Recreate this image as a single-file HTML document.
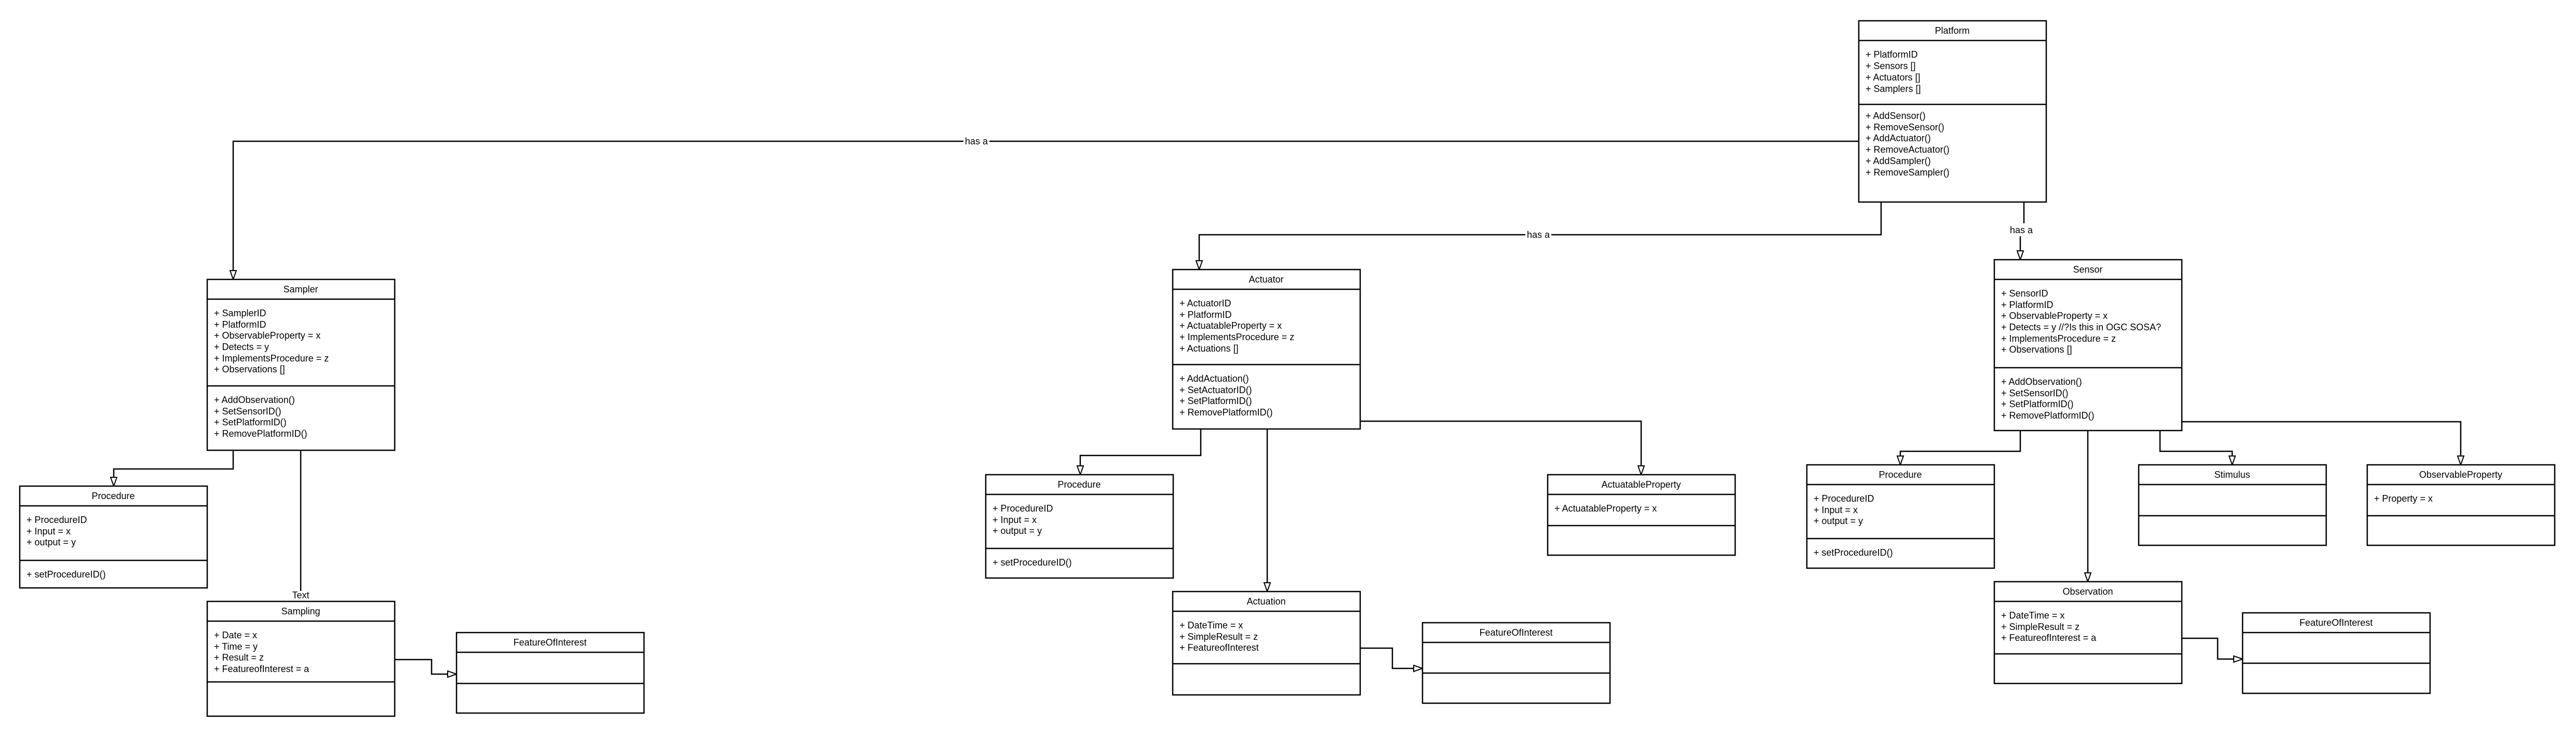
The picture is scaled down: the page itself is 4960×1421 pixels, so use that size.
<!DOCTYPE html>
<html><head><meta charset="utf-8"><style>
html,body{margin:0;padding:0;background:#fff}
svg{display:block}
text{font-family:"Liberation Sans",sans-serif;font-size:18px;fill:#000}
.b{fill:#fff;stroke:#000;stroke-width:2.5}
.l{stroke:#000;stroke-width:2.5;fill:none}
.a{fill:#fff;stroke:#000;stroke-width:2}
.h{text-anchor:middle}
</style></head><body>
<svg width="4960" height="1421" viewBox="0 0 4960 1421" xmlns="http://www.w3.org/2000/svg">
<!-- connectors -->
<polyline class="l" points="3579,272 449,272 449,536"/>
<polygon class="a" points="443,521 455,521 449,538"/>
<rect x="1855" y="260" width="50" height="22" fill="#fff"/><text x="1880" y="278" class="h">has a</text>

<polyline class="l" points="3622,389 3622,452 2309,452 2309,517"/>
<polygon class="a" points="2303,502 2315,502 2309,519"/>
<rect x="2937" y="440" width="50" height="22" fill="#fff"/><text x="2962" y="458" class="h">has a</text>

<polyline class="l" points="3897,389 3897,430"/>
<polyline class="l" points="3890,455 3890,498"/>
<polygon class="a" points="3884,483 3896,483 3890,500"/>
<text x="3892" y="449" class="h">has a</text>

<polyline class="l" points="449,867 449,903 219,903 219,934"/>
<polygon class="a" points="213,919 225,919 219,936"/>
<polyline class="l" points="579,867 579,1138"/>
<text x="579" y="1152" class="h">Text</text>
<polyline class="l" points="759,1270 831,1270 831,1298 877,1298"/>
<polygon class="a" points="862,1292 862,1304 879,1298"/>

<polyline class="l" points="2312,826 2312,877 2080,877 2080,912"/>
<polygon class="a" points="2074,897 2086,897 2080,914"/>
<polyline class="l" points="2440,826 2440,1137"/>
<polygon class="a" points="2434,1122 2446,1122 2440,1139"/>
<polyline class="l" points="2619,811 3160,811 3160,912"/>
<polygon class="a" points="3154,897 3166,897 3160,914"/>
<polyline class="l" points="2619,1248 2681,1248 2681,1287 2737,1287"/>
<polygon class="a" points="2722,1281 2722,1293 2739,1287"/>

<polyline class="l" points="3890,829 3890,869 3659,869 3659,893"/>
<polygon class="a" points="3653,878 3665,878 3659,895"/>
<polyline class="l" points="4020,829 4020,1118"/>
<polygon class="a" points="4014,1103 4026,1103 4020,1120"/>
<polyline class="l" points="4159,829 4159,869 4298,869 4298,893"/>
<polygon class="a" points="4292,878 4304,878 4298,895"/>
<polyline class="l" points="4200,812 4738,812 4738,893"/>
<polygon class="a" points="4732,878 4744,878 4738,895"/>
<polyline class="l" points="4200,1229 4270,1229 4270,1269 4316,1269"/>
<polygon class="a" points="4301,1263 4301,1275 4318,1269"/>

<!-- Platform -->
<rect class="b" x="3579" y="40" width="361" height="349"/>
<line class="l" x1="3579" y1="78" x2="3940" y2="78"/><line class="l" x1="3579" y1="201" x2="3940" y2="201"/>
<text x="3759" y="65" class="h">Platform</text>
<text x="3592" y="111">+ PlatformID</text><text x="3592" y="133">+ Sensors []</text><text x="3592" y="155">+ Actuators []</text><text x="3592" y="177">+ Samplers []</text>
<text x="3592" y="229">+ AddSensor()</text><text x="3592" y="251">+ RemoveSensor()</text><text x="3592" y="272">+ AddActuator()</text><text x="3592" y="294">+ RemoveActuator()</text><text x="3592" y="316">+ AddSampler()</text><text x="3592" y="338">+ RemoveSampler()</text>

<!-- Sampler -->
<rect class="b" x="399" y="538" width="361" height="329"/>
<line class="l" x1="399" y1="576" x2="760" y2="576"/><line class="l" x1="399" y1="743" x2="760" y2="743"/>
<text x="579" y="563" class="h">Sampler</text>
<text x="412" y="609">+ SamplerID</text><text x="412" y="631">+ PlatformID</text><text x="412" y="652">+ ObservableProperty = x</text><text x="412" y="674">+ Detects = y</text><text x="412" y="696">+ ImplementsProcedure = z</text><text x="412" y="717">+ Observations []</text>
<text x="412" y="776">+ AddObservation()</text><text x="412" y="798">+ SetSensorID()</text><text x="412" y="819">+ SetPlatformID()</text><text x="412" y="841">+ RemovePlatformID()</text>

<!-- Procedure L -->
<rect class="b" x="38" y="936" width="361" height="196"/>
<line class="l" x1="38" y1="974" x2="399" y2="974"/><line class="l" x1="38" y1="1079" x2="399" y2="1079"/>
<text x="218" y="961" class="h">Procedure</text>
<text x="51" y="1007">+ ProcedureID</text><text x="51" y="1029">+ Input = x</text><text x="51" y="1050">+ output = y</text>
<text x="51" y="1112">+ setProcedureID()</text>

<!-- Sampling -->
<rect class="b" x="399" y="1158" width="361" height="221"/>
<line class="l" x1="399" y1="1196" x2="760" y2="1196"/><line class="l" x1="399" y1="1313" x2="760" y2="1313"/>
<text x="579" y="1183" class="h">Sampling</text>
<text x="412" y="1229">+ Date  = x</text><text x="412" y="1251">+ Time  = y</text><text x="412" y="1272">+ Result  = z</text><text x="412" y="1294">+ FeatureofInterest = a</text>

<!-- FOI L -->
<rect class="b" x="879" y="1218" width="361" height="155"/>
<line class="l" x1="879" y1="1256" x2="1240" y2="1256"/><line class="l" x1="879" y1="1316" x2="1240" y2="1316"/>
<text x="1059" y="1243" class="h">FeatureOfInterest</text>

<!-- Actuator -->
<rect class="b" x="2258" y="519" width="361" height="307"/>
<line class="l" x1="2258" y1="557" x2="2619" y2="557"/><line class="l" x1="2258" y1="702" x2="2619" y2="702"/>
<text x="2438" y="544" class="h">Actuator</text>
<text x="2271" y="590">+ ActuatorID</text><text x="2271" y="612">+ PlatformID</text><text x="2271" y="633">+ ActuatableProperty = x</text><text x="2271" y="655">+ ImplementsProcedure = z</text><text x="2271" y="677">+ Actuations []</text>
<text x="2271" y="735">+ AddActuation()</text><text x="2271" y="757">+ SetActuatorID()</text><text x="2271" y="778">+ SetPlatformID()</text><text x="2271" y="800">+ RemovePlatformID()</text>

<!-- Procedure M -->
<rect class="b" x="1898" y="914" width="361" height="199"/>
<line class="l" x1="1898" y1="952" x2="2259" y2="952"/><line class="l" x1="1898" y1="1056" x2="2259" y2="1056"/>
<text x="2078" y="939" class="h">Procedure</text>
<text x="1911" y="985">+ ProcedureID</text><text x="1911" y="1007">+ Input = x</text><text x="1911" y="1028">+ output = y</text>
<text x="1911" y="1089">+ setProcedureID()</text>

<!-- ActuatableProperty -->
<rect class="b" x="2980" y="914" width="361" height="155"/>
<line class="l" x1="2980" y1="952" x2="3341" y2="952"/><line class="l" x1="2980" y1="1012" x2="3341" y2="1012"/>
<text x="3160" y="939" class="h">ActuatableProperty</text>
<text x="2993" y="985">+ ActuatableProperty = x</text>

<!-- Actuation -->
<rect class="b" x="2258" y="1139" width="361" height="199"/>
<line class="l" x1="2258" y1="1177" x2="2619" y2="1177"/><line class="l" x1="2258" y1="1278" x2="2619" y2="1278"/>
<text x="2438" y="1164" class="h">Actuation</text>
<text x="2271" y="1210">+ DateTime  = x</text><text x="2271" y="1232">+ SimpleResult  = z</text><text x="2271" y="1253">+ FeatureofInterest</text>

<!-- FOI M -->
<rect class="b" x="2739" y="1199" width="361" height="155"/>
<line class="l" x1="2739" y1="1237" x2="3100" y2="1237"/><line class="l" x1="2739" y1="1296" x2="3100" y2="1296"/>
<text x="2919" y="1224" class="h">FeatureOfInterest</text>

<!-- Sensor -->
<rect class="b" x="3840" y="500" width="361" height="329"/>
<line class="l" x1="3840" y1="538" x2="4201" y2="538"/><line class="l" x1="3840" y1="708" x2="4201" y2="708"/>
<text x="4020" y="525" class="h">Sensor</text>
<text x="3853" y="571">+ SensorID</text><text x="3853" y="593">+ PlatformID</text><text x="3853" y="614">+ ObservableProperty = x</text><text x="3853" y="636">+ Detects = y //?Is this in OGC SOSA?</text><text x="3853" y="658">+ ImplementsProcedure = z</text><text x="3853" y="679">+ Observations []</text>
<text x="3853" y="741">+ AddObservation()</text><text x="3853" y="763">+ SetSensorID()</text><text x="3853" y="784">+ SetPlatformID()</text><text x="3853" y="806">+ RemovePlatformID()</text>

<!-- Procedure R -->
<rect class="b" x="3479" y="895" width="361" height="199"/>
<line class="l" x1="3479" y1="933" x2="3840" y2="933"/><line class="l" x1="3479" y1="1037" x2="3840" y2="1037"/>
<text x="3659" y="920" class="h">Procedure</text>
<text x="3492" y="966">+ ProcedureID</text><text x="3492" y="988">+ Input = x</text><text x="3492" y="1009">+ output = y</text>
<text x="3492" y="1070">+ setProcedureID()</text>

<!-- Stimulus -->
<rect class="b" x="4118" y="895" width="361" height="155"/>
<line class="l" x1="4118" y1="933" x2="4479" y2="933"/><line class="l" x1="4118" y1="993" x2="4479" y2="993"/>
<text x="4298" y="920" class="h">Stimulus</text>

<!-- ObservableProperty -->
<rect class="b" x="4558" y="895" width="361" height="155"/>
<line class="l" x1="4558" y1="933" x2="4919" y2="933"/><line class="l" x1="4558" y1="993" x2="4919" y2="993"/>
<text x="4738" y="920" class="h">ObservableProperty</text>
<text x="4571" y="966">+ Property = x</text>

<!-- Observation -->
<rect class="b" x="3840" y="1120" width="361" height="196"/>
<line class="l" x1="3840" y1="1158" x2="4201" y2="1158"/><line class="l" x1="3840" y1="1259" x2="4201" y2="1259"/>
<text x="4020" y="1145" class="h">Observation</text>
<text x="3853" y="1191">+ DateTime  = x</text><text x="3853" y="1213">+ SimpleResult  = z</text><text x="3853" y="1234">+ FeatureofInterest = a</text>

<!-- FOI R -->
<rect class="b" x="4318" y="1180" width="361" height="155"/>
<line class="l" x1="4318" y1="1218" x2="4679" y2="1218"/><line class="l" x1="4318" y1="1277" x2="4679" y2="1277"/>
<text x="4498" y="1205" class="h">FeatureOfInterest</text>
</svg>
</body></html>
